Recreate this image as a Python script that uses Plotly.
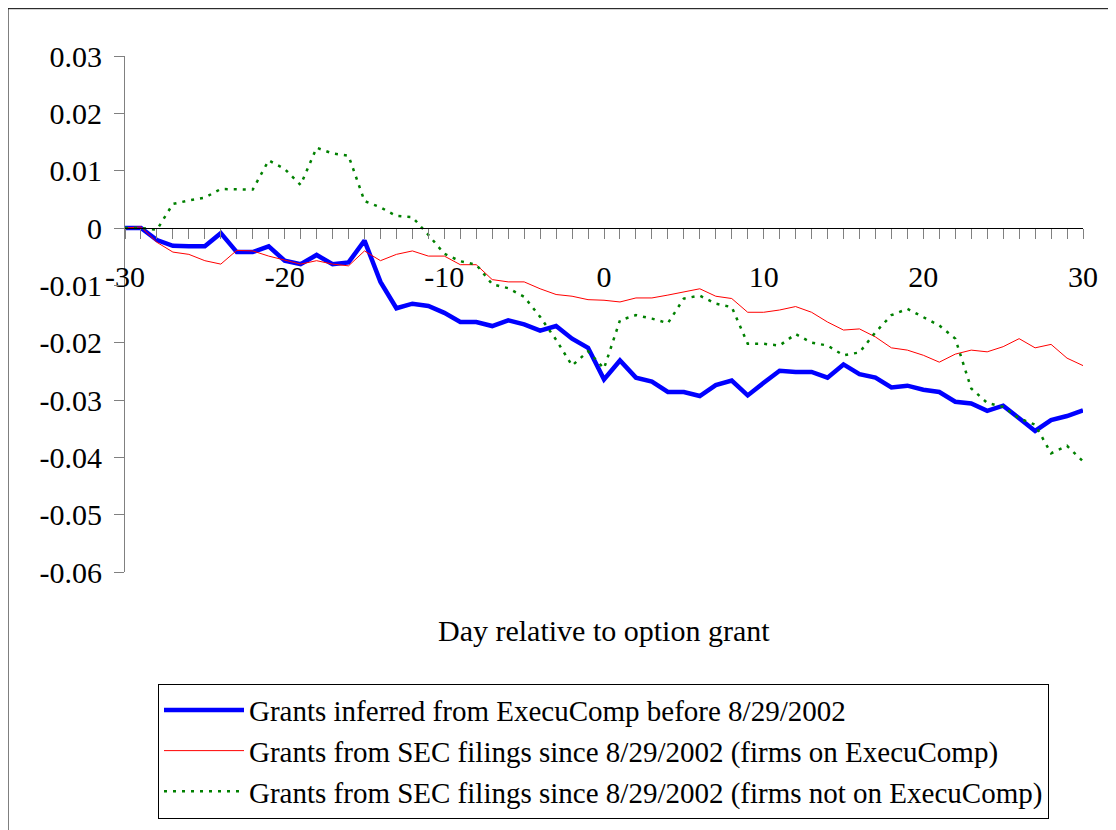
import plotly.graph_objects as go

# Day relative to option grant
days = list(range(-30, 31))

# Grants inferred from ExecuComp before 8/29/2002
execucomp_pre = [
    0.0, 0.0, -0.0021, -0.0031, -0.0032, -0.0032, -0.0009, -0.0042, -0.0042, -0.0032,
    -0.0057, -0.0063, -0.0047, -0.0063, -0.0060, -0.0022, -0.0094, -0.0140, -0.0132, -0.0136,
    -0.0148, -0.0164, -0.0164, -0.0171, -0.0161, -0.0168, -0.0179, -0.0171, -0.0193, -0.0209,
    -0.0264, -0.0231, -0.0261, -0.0268, -0.0286, -0.0286, -0.0293, -0.0274, -0.0266, -0.0292,
    -0.0270, -0.0249, -0.0251, -0.0251, -0.0261, -0.0238, -0.0255, -0.0261, -0.0278, -0.0275,
    -0.0282, -0.0286, -0.0303, -0.0306, -0.0319, -0.0310, -0.0332, -0.0354, -0.0335, -0.0328,
    -0.0318,
]

# Grants from SEC filings since 8/29/2002 (firms on ExecuComp)
sec_on = [
    0.0, 0.0002, -0.0025, -0.0042, -0.0046, -0.0057, -0.0063, -0.0039, -0.0040, -0.0049,
    -0.0056, -0.0063, -0.0057, -0.0063, -0.0066, -0.0040, -0.0057, -0.0046, -0.0040, -0.0049,
    -0.0049, -0.0064, -0.0064, -0.0090, -0.0094, -0.0094, -0.0106, -0.0116, -0.0119, -0.0125,
    -0.0126, -0.0129, -0.0122, -0.0122, -0.0117, -0.0111, -0.0106, -0.0119, -0.0123, -0.0147,
    -0.0147, -0.0143, -0.0137, -0.0147, -0.0164, -0.0178, -0.0176, -0.0190, -0.0209, -0.0213,
    -0.0222, -0.0234, -0.0220, -0.0213, -0.0216, -0.0207, -0.0193, -0.0209, -0.0203, -0.0227,
    -0.0240,
]

# Grants from SEC filings since 8/29/2002 (firms not on ExecuComp)
sec_not_on = [
    0.0, 0.0, -0.0003, 0.0042, 0.0048, 0.0053, 0.0068, 0.0067, 0.0067, 0.0118,
    0.0103, 0.0075, 0.0140, 0.0130, 0.0126, 0.0047, 0.0036, 0.0021, 0.0019, -0.0012,
    -0.0045, -0.0058, -0.0064, -0.0098, -0.0105, -0.0120, -0.0155, -0.0195, -0.0240, -0.0215,
    -0.0245, -0.0161, -0.0152, -0.0158, -0.0166, -0.0123, -0.0118, -0.0132, -0.0138, -0.0202,
    -0.0202, -0.0205, -0.0185, -0.0200, -0.0205, -0.0222, -0.0217, -0.0182, -0.0152, -0.0141,
    -0.0155, -0.0170, -0.0193, -0.0280, -0.0305, -0.0312, -0.0332, -0.0343, -0.0393, -0.0380,
    -0.0407,
]

y_tickvals = [0.03, 0.02, 0.01, 0, -0.01, -0.02, -0.03, -0.04, -0.05, -0.06]
y_ticktext = ["0.03", "0.02", "0.01", "0", "-0.01", "-0.02", "-0.03", "-0.04", "-0.05", "-0.06"]
x_tickvals = [-30, -20, -10, 0, 10, 20, 30]
x_ticktext = ["-30", "-20", "-10", "0", "10", "20", "30"]

FONT = "Liberation Serif, Times New Roman, serif"

# page body has an 8px margin, so the figure is sized to fit inside it
W, H = 1108, 822
L, T = 117, 48          # plot area left / top in figure pixels
PW, PH = 958, 518       # plot area width / height

fig = go.Figure()

fig.add_trace(go.Scatter(
    x=days, y=execucomp_pre, mode="lines",
    name="Grants inferred from ExecuComp before 8/29/2002",
    line=dict(color="#0000FF", width=4.5),
))
fig.add_trace(go.Scatter(
    x=days, y=sec_on, mode="lines",
    name="Grants from SEC filings since 8/29/2002 (firms on ExecuComp)",
    line=dict(color="#FF0000", width=1),
))
fig.add_trace(go.Scatter(
    x=days, y=sec_not_on, mode="lines",
    name="Grants from SEC filings since 8/29/2002 (firms not on ExecuComp)",
    line=dict(color="#008000", width=2.5, dash="3px,6px"),
))

fig.update_layout(
    width=W, height=H,
    margin=dict(l=L, r=W - L - PW, t=T, b=H - T - PH, pad=0),
    paper_bgcolor="white", plot_bgcolor="white",
    font=dict(family=FONT, size=30, color="black"),
    legend=dict(
        x=(150 - L) / PW, y=(T + PH - 678) / PH, xanchor="left", yanchor="top",
        bordercolor="black", borderwidth=1,
        font=dict(size=29, family=FONT),
        itemwidth=80, tracegroupgap=0,
    ),
)

fig.update_xaxes(
    range=[-30, 30], anchor="free", position=2 / 3,
    tickvals=x_tickvals, ticktext=x_ticktext,
    ticks="outside", ticklen=10, tickcolor="#808080",
    ticklabelstandoff=12,
    minor=dict(dtick=1, tick0=0, ticks="outside", ticklen=10, tickcolor="#808080"),
    showline=True, linecolor="black", linewidth=1,
    showgrid=False, zeroline=False,
)
fig.update_yaxes(
    range=[-0.06, 0.03],
    tickvals=y_tickvals, ticktext=y_ticktext,
    ticks="outside", ticklen=10, tickcolor="#808080",
    ticklabelstandoff=6,
    showline=True, linecolor="#808080", linewidth=1,
    showgrid=False, zeroline=False,
)

# axis title
fig.add_annotation(
    text="Day relative to option grant", xref="paper", yref="paper",
    x=0.5, y=(T + PH - 625) / PH, yanchor="middle", showarrow=False,
    font=dict(size=30, family=FONT),
)

# outer chart frame
fig.add_shape(
    type="rect", xref="paper", yref="paper",
    x0=(0 - L) / PW, x1=(1104 - L) / PW,
    y0=(T + PH - 840) / PH, y1=(T + PH - 0.5) / PH,
    line=dict(color="black", width=1), layer="below",
)

fig.write_html("out.html")
